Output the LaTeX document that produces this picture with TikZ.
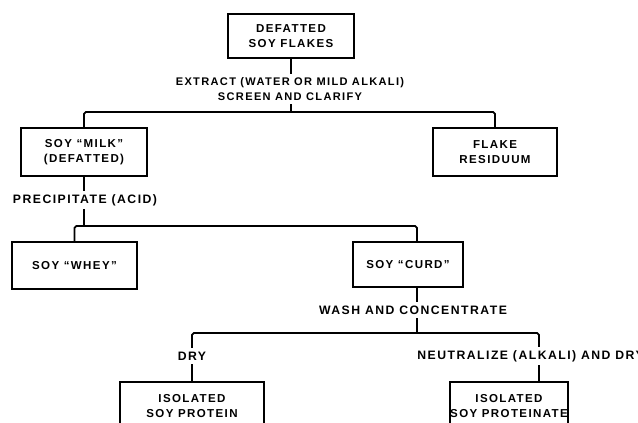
\documentclass[tikz,border=0pt]{standalone}
\usepackage{fontspec}
\newfontfamily\labf[LetterSpace=12]{Liberation Sans}
\newcommand{\boxfont}{\labf\bfseries\fontsize{9.8}{12.5}\selectfont}
\newcommand{\labfont}{\labf\bfseries\fontsize{10.4}{12}\selectfont}
\newcommand{\smlabfont}{\labf\bfseries\fontsize{9.4}{12}\selectfont}
\tikzset{
  box/.style={draw, line width=1.5pt, align=center, inner sep=0pt, font=\boxfont},
  lab/.style={align=center, font=\labfont, fill=white, inner xsep=1pt, inner ysep=3pt},
  wire/.style={line width=1.5pt, rounded corners=1.5pt}
}
\begin{document}
\begin{tikzpicture}[x=0.85pt,y=-0.85pt]
\useasboundingbox (0,0) rectangle (638,423);
\clip (0,0) rectangle (638,423);
% boxes
\node[box, minimum width=107.1pt, minimum height=37.4pt] (top) at (291,36) {DEFATTED\\SOY FLAKES};
\node[box, minimum width=107.1pt, minimum height=40.8pt] (milk) at (84,152) {SOY “MILK”\\(DEFATTED)};
\node[box, minimum width=105.4pt, minimum height=40.8pt] (flake) at (495,152) {FLAKE\\RESIDUUM};
\node[box, minimum width=106.25pt, minimum height=39.95pt] (whey) at (74.5,265.5) {SOY “WHEY”};
\node[box, minimum width=93.5pt, minimum height=38.25pt] (curd) at (408,264.5) {SOY “CURD”};
\node[box, minimum width=122.4pt, minimum height=40.8pt] (protein) at (192,406) {ISOLATED\\SOY PROTEIN};
\node[box, minimum width=95.2pt, minimum height=40.8pt] (proteinate) at (509,406) {ISOLATED\\SOY PROTEINATE};
% junction coordinates
\coordinate (bus1) at (291,112);
\coordinate (bus2) at (84,226);
\coordinate (c2) at (417,242);
\coordinate (c3) at (417,287);
\coordinate (bus3) at (417,333);
\coordinate (p2) at (539,382);
% connectors
\draw[wire] (top.south) -- (bus1);
\draw[wire] (milk.north) |- (bus1) -| (flake.north);
\draw[wire] (milk.south) -- (bus2);
\draw[wire] (whey.north) |- (bus2) -| (c2);
\draw[wire] (c3) -- (bus3);
\draw[wire] (protein.north) |- (bus3) -| (p2);
% labels
\node[lab, font=\smlabfont] (extract) at (290,89) {EXTRACT (WATER OR MILD ALKALI)\\SCREEN AND CLARIFY};
\node[lab] (precip) at (85,200) {PRECIPITATE (ACID)};
\node[lab] (wash) at (413,310) {WASH AND CONCENTRATE};
\node[lab] (dry) at (192,356) {DRY};
\node[lab, anchor=west] (neut) at (416,356) {NEUTRALIZE (ALKALI) AND DRY};
\end{tikzpicture}
\end{document}
